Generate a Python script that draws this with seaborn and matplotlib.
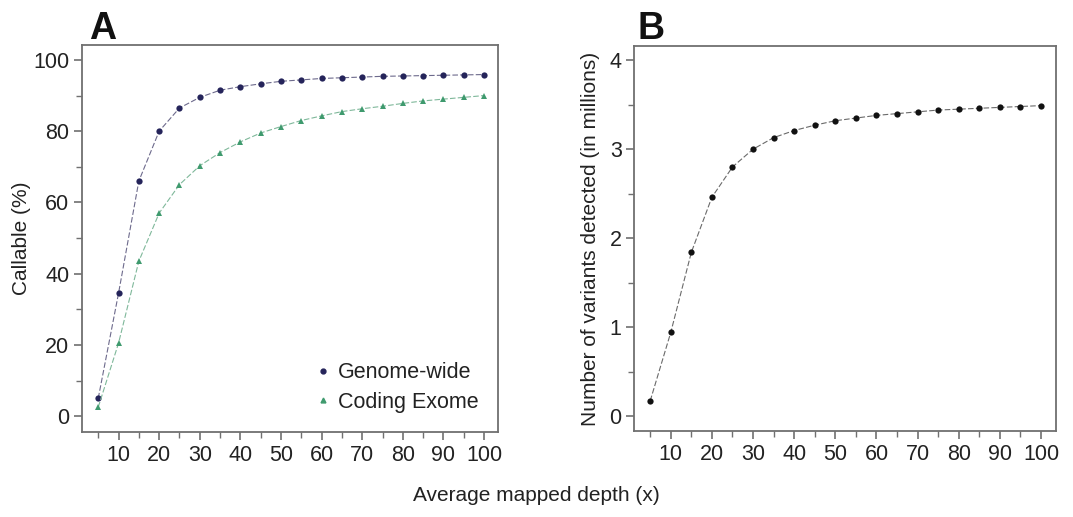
import pandas as pd
import matplotlib.pyplot as plt
import seaborn as sns
from matplotlib.lines import Line2D
from matplotlib.ticker import MultipleLocator

depth = [5, 10, 15, 20, 25, 30, 35, 40, 45, 50, 55, 60, 65, 70, 75, 80, 85, 90, 95, 100]
genome_wide = [5.0, 34.5, 66.0, 80.0, 86.5, 89.5, 91.5, 92.5, 93.3, 94.0,
               94.4, 94.8, 95.0, 95.2, 95.4, 95.5, 95.6, 95.7, 95.8, 95.9]
coding_exome = [2.5, 20.5, 43.5, 57.0, 65.0, 70.3, 74.0, 77.0, 79.5, 81.3,
                83.0, 84.3, 85.5, 86.3, 87.0, 87.8, 88.5, 89.0, 89.5, 90.0]
variants = [0.17, 0.94, 1.84, 2.46, 2.80, 3.00, 3.13, 3.21, 3.27, 3.32,
            3.35, 3.38, 3.40, 3.42, 3.44, 3.45, 3.46, 3.47, 3.48, 3.49]

sns.set_style("white")
plt.rcParams['font.family'] = ['Liberation Sans', 'DejaVu Sans']

df_a = pd.DataFrame({
    'depth': depth * 2,
    'callable': genome_wide + coding_exome,
    'set': ['Genome-wide'] * len(depth) + ['Coding Exome'] * len(depth),
})
df_b = pd.DataFrame({'depth': depth, 'variants': variants})

navy = '#25245a'
green = '#3f9a6e'
frame = '#707070'
txt = '#222222'

fig = plt.figure(figsize=(10.73, 5.17), dpi=100)
ax1 = fig.add_axes([0.0764, 0.164, 0.388, 0.749])
ax2 = fig.add_axes([0.591, 0.166, 0.393, 0.745])

sns.lineplot(data=df_a, x='depth', y='callable', hue='set', style='set',
             palette={'Genome-wide': navy, 'Coding Exome': green},
             markers={'Genome-wide': 'o', 'Coding Exome': '^'},
             dashes={'Genome-wide': (5, 2), 'Coding Exome': (5, 2)},
             markersize=4.5, linewidth=0.8, markeredgewidth=0, legend=False, ax=ax1)
sns.lineplot(data=df_b, x='depth', y='variants', color='#111111', marker='o',
             markersize=4.5, linewidth=0.8, markeredgewidth=0, ax=ax2)

# lighter connecting lines, dark markers
for ln, lc in zip(ax1.lines, ['#6d6a8c', '#7fb89a']):
    ln.set_color(lc)
for ln, mc in zip(ax1.lines, [navy, green]):
    ln.set_markerfacecolor(mc)
ax2.lines[0].set_dashes((5, 2))
ax2.lines[0].set_color('#6a6a6a')
ax2.lines[0].set_markerfacecolor('#111111')

ax1.set_xlim(1, 103.5)
ax1.set_ylim(-4.5, 104.2)
ax2.set_xlim(1.1, 103.6)
ax2.set_ylim(-0.17, 4.16)

for ax in (ax1, ax2):
    ax.xaxis.set_major_locator(MultipleLocator(10))
    ax.xaxis.set_minor_locator(MultipleLocator(5))
    for s in ax.spines.values():
        s.set_color(frame)
        s.set_linewidth(1.3)
    ax.tick_params(which='both', direction='out', color=frame, bottom=True, left=True,
                   labelsize=15.5, labelcolor=txt, pad=3)
    ax.tick_params(which='major', length=6, width=1.2)
    ax.tick_params(which='minor', length=4, width=1.0)
    ax.set_xlabel('')
    ax.set_xticks([t for t in range(10, 101, 10)])

ax1.yaxis.set_major_locator(MultipleLocator(20))
ax1.yaxis.set_minor_locator(MultipleLocator(10))
ax2.yaxis.set_major_locator(MultipleLocator(1))
ax2.yaxis.set_minor_locator(MultipleLocator(0.5))

ax1.set_ylabel('Callable (%)', fontsize=15, color=txt, labelpad=2)
ax2.set_ylabel('Number of variants detected (in millions)', fontsize=15, color=txt, labelpad=7)

handles = [
    Line2D([], [], linestyle='none', marker='o', color=navy, markersize=3.5),
    Line2D([], [], linestyle='none', marker='^', color=green, markersize=3.5),
]
ax1.legend(handles, ['Genome-wide', 'Coding Exome'], loc='lower right', frameon=False,
           fontsize=15.5, handletextpad=0.2, labelspacing=0.4, borderaxespad=0.5,
           handlelength=1.0, labelcolor=txt)

fig.text(0.083, 0.925, 'A', fontsize=27, fontweight='bold', color='#111111')
fig.text(0.594, 0.925, 'B', fontsize=27, fontweight='bold', color='#111111')
fig.text(0.5, 0.03, 'Average mapped depth (x)', fontsize=15, color=txt, ha='center')

fig.savefig('out.png', dpi=100)
